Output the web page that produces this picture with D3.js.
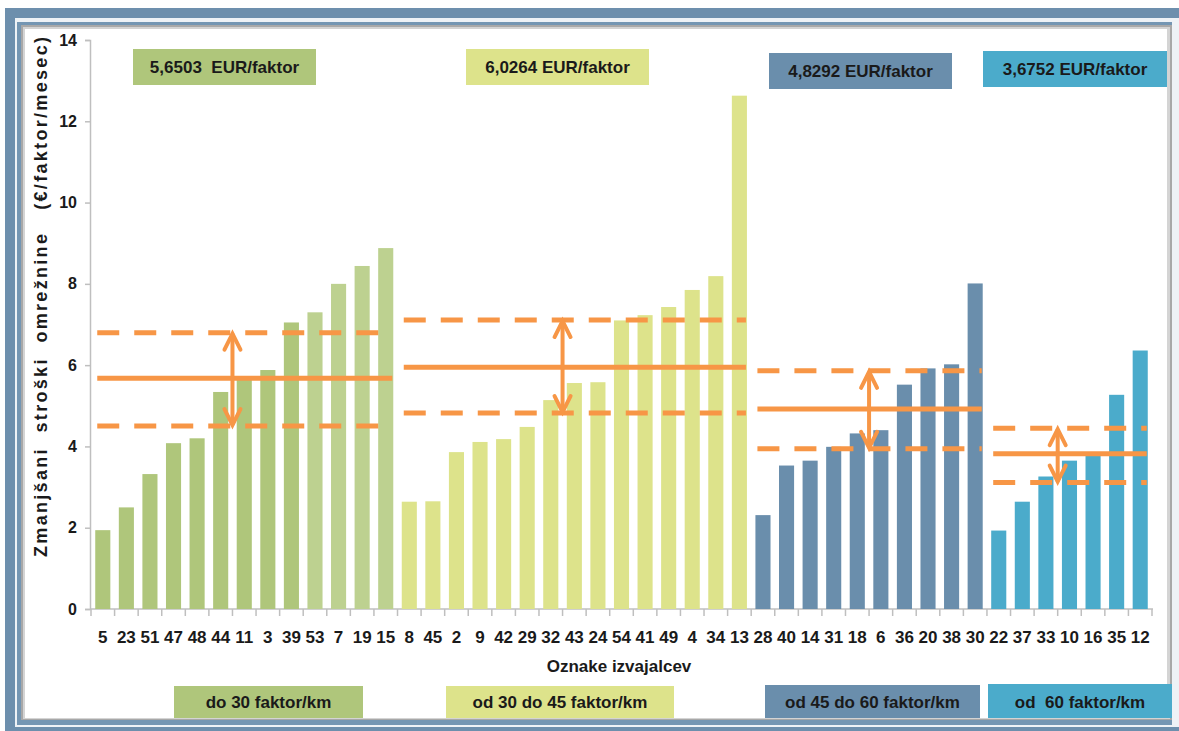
<!DOCTYPE html>
<html>
<head>
<meta charset="utf-8">
<script src="https://cdn.jsdelivr.net/npm/d3@7"></script>
<style>
  body { margin: 0; background: #fff; }
  svg { display: block; }
  text { font-family: "Liberation Sans Narrow", "Liberation Sans", Arial, sans-serif; font-weight: bold; fill: #1a1a1a; }
</style>
</head>
<body>
<svg id="chart" width="1179" height="731"></svg>
<script>
// producer ids per group (x axis order) and cost values
var ids1 = ["5", "23", "51", "47", "48", "44", "11", "3", "39", "53", "7", "19", "15"];
var vals1 = [1.94, 2.5, 3.32, 4.08, 4.2, 5.34, 5.7, 5.88, 7.05, 7.3, 8.0, 8.44, 8.88];
var ids2 = ["8", "45", "2", "9", "42", "29", "32", "43", "24", "54", "41", "49", "4", "34", "13"];
var vals2 = [2.64, 2.65, 3.86, 4.11, 4.18, 4.48, 5.14, 5.56, 5.58, 7.1, 7.23, 7.43, 7.85, 8.19, 12.63];
var ids3 = ["28", "40", "14", "31", "18", "6", "36", "20", "38", "30"];
var vals3 = [2.31, 3.53, 3.65, 3.99, 4.32, 4.4, 5.52, 5.92, 6.02, 8.01];
var ids4 = ["22", "37", "33", "10", "16", "35", "12"];
var vals4 = [1.93, 2.64, 3.26, 3.65, 3.79, 5.27, 6.36];

var groupNames = ["do 30 faktor/km", "od 30 do 45 faktor/km", "od 45 do 60 faktor/km", "od  60 faktor/km"];
var priceLabels = ["5,6503  EUR/faktor", "6,0264 EUR/faktor", "4,8292 EUR/faktor", "3,6752 EUR/faktor"];
var meanValues = [5.68, 5.95, 4.92, 3.82];
var upperValues = [6.8, 7.11, 5.86, 4.45];
var lowerValues = [4.5, 4.82, 3.94, 3.11];
var arrowAt = ["11", "43", "6", "10"];
var yTicks = [0, 2, 4, 6, 8, 10, 12, 14];

var groupColors = ["#afc67b", "#dde38b", "#6a8eac", "#4babcb"];
var lighterIds = ["53", "7", "19", "15"];
var orange = "#f79646";

var allIds = [ids1, ids2, ids3, ids4];
var allVals = [vals1, vals2, vals3, vals4];
var bars = [];
for (var g = 0; g < 4; g++) {
    for (var i = 0; i < allIds[g].length; i++) {
        bars.push({id: allIds[g][i], value: allVals[g][i], group: g});
    }
}

var svg = d3.select("#chart");

var x = d3.scaleBand()
    .domain(bars.map(function(d) { return d.id; }))
    .range([91, 1152])
    .paddingInner(0.36)
    .paddingOuter(0.18);

var y = d3.scaleLinear().domain([0, 14]).range([609, 40]);

var step = x.step();
function leftEdge(id) { return x(id) - step * 0.18; }

// frame
svg.append("rect").attr("x", 5).attr("y", 8).attr("width", 1174).attr("height", 723).attr("fill", "#6d8fad");
svg.append("rect").attr("x", 15).attr("y", 18).attr("width", 1164).attr("height", 709).attr("fill", "#eef2f6");
svg.append("rect").attr("x", 17).attr("y", 22).attr("width", 1155).attr("height", 703).attr("fill", "#7496b3");
svg.append("rect").attr("x", 21).attr("y", 25).attr("width", 1151).attr("height", 695).attr("fill", "#a8a8a8");
svg.append("rect").attr("x", 23).attr("y", 27).attr("width", 1147).attr("height", 692).attr("fill", "#d4d4d4");
svg.append("rect").attr("x", 25).attr("y", 29).attr("width", 1142).attr("height", 689).attr("fill", "#ffffff");

var plot = svg.append("g");

// axes
var yAxis = d3.axisLeft(y).tickValues(yTicks).tickSize(5).tickPadding(8);
var yg = plot.append("g").attr("transform", "translate(90,0)").call(yAxis);
yg.select(".domain").attr("stroke", "#bfbfbf").attr("stroke-width", 1.5);
yg.selectAll(".tick line").attr("stroke", "#bfbfbf").attr("stroke-width", 1.5);
yg.selectAll(".tick text").style("font-size", "16px").attr("fill", "#1a1a1a");

plot.append("line").attr("x1", 90).attr("x2", 1153).attr("y1", y(0)).attr("y2", y(0))
    .attr("stroke", "#bfbfbf").attr("stroke-width", 1.5);
plot.selectAll(".xtick").data(d3.range(bars.length + 1)).enter().append("line")
    .attr("x1", function(i) { return 91 + i * step; })
    .attr("x2", function(i) { return 91 + i * step; })
    .attr("y1", y(0)).attr("y2", y(0) + 7)
    .attr("stroke", "#bfbfbf").attr("stroke-width", 1.5);
plot.selectAll(".xlab").data(bars).enter().append("text")
    .attr("x", function(d) { return x(d.id) + x.bandwidth() / 2; })
    .attr("y", 643)
    .attr("text-anchor", "middle")
    .style("font-size", "17px")
    .text(function(d) { return d.id; });

// bars
plot.selectAll(".bar").data(bars).enter().append("rect")
    .attr("x", function(d) { return x(d.id); })
    .attr("width", x.bandwidth())
    .attr("y", function(d) { return y(d.value); })
    .attr("height", function(d) { return y(0) - y(d.value); })
    .attr("fill", function(d) { return lighterIds.indexOf(d.id) >= 0 ? "#bdd190" : groupColors[d.group]; });

// mean and band lines
for (var k = 0; k < 4; k++) {
    var ids = allIds[k];
    var x0 = x(ids[0]) + 2;
    var x1 = x(ids[ids.length - 1]) + x.bandwidth() - 1;
    plot.append("line").attr("x1", x0).attr("x2", x1).attr("y1", y(meanValues[k])).attr("y2", y(meanValues[k]))
        .attr("stroke", orange).attr("stroke-width", 5);
    [upperValues[k], lowerValues[k]].forEach(function(v) {
        plot.append("line").attr("x1", x0).attr("x2", x1).attr("y1", y(v)).attr("y2", y(v))
            .attr("stroke", orange).attr("stroke-width", 5).attr("stroke-dasharray", "22,15");
    });
    var ax = leftEdge(arrowAt[k]);
    var yt = y(upperValues[k]), yb = y(lowerValues[k]);
    plot.append("line").attr("x1", ax).attr("x2", ax).attr("y1", yt + 1).attr("y2", yb - 1)
        .attr("stroke", orange).attr("stroke-width", 4);
    plot.append("path")
        .attr("d", "M" + (ax - 8) + "," + (yt + 17) + "L" + ax + "," + (yt + 1) + "L" + (ax + 8) + "," + (yt + 17))
        .attr("fill", "none").attr("stroke", orange).attr("stroke-width", 4).attr("stroke-linecap", "round");
    plot.append("path")
        .attr("d", "M" + (ax - 8) + "," + (yb - 17) + "L" + ax + "," + (yb - 1) + "L" + (ax + 8) + "," + (yb - 17))
        .attr("fill", "none").attr("stroke", orange).attr("stroke-width", 4).attr("stroke-linecap", "round");
}

// price boxes on top
var topBoxes = [[133, 49, 183], [466, 49, 183], [769, 53, 183], [983, 51, 184]];
topBoxes.forEach(function(b, k) {
    svg.append("rect").attr("x", b[0]).attr("y", b[1]).attr("width", b[2]).attr("height", 36)
        .attr("fill", groupColors[k]);
    svg.append("text").attr("x", b[0] + b[2] / 2).attr("y", b[1] + 24)
        .attr("text-anchor", "middle").style("font-size", "17px").style("white-space", "pre")
        .text(priceLabels[k]);
});

// group boxes on bottom
var bottomBoxes = [[174, 686, 189], [446, 686, 228], [765, 685, 215], [988, 684, 184]];
bottomBoxes.forEach(function(b, k) {
    svg.append("rect").attr("x", b[0]).attr("y", b[1]).attr("width", b[2]).attr("height", 718 - b[1])
        .attr("fill", groupColors[k]);
    svg.append("text").attr("x", b[0] + b[2] / 2).attr("y", 708)
        .attr("text-anchor", "middle").style("font-size", "17px").style("white-space", "pre")
        .text(groupNames[k]);
});

// axis titles
svg.append("text").attr("x", 619).attr("y", 672).attr("text-anchor", "middle")
    .style("font-size", "17px").text("Oznake izvajalcev");
svg.append("text").attr("transform", "translate(47,297) rotate(-90)").attr("text-anchor", "middle")
    .style("font-family", "'Liberation Sans', Arial, sans-serif")
    .style("font-size", "18px").style("white-space", "pre")
    .attr("textLength", 520).attr("lengthAdjust", "spacing")
    .text("Zmanjšani  stroški  omrežnine   (€/faktor/mesec)");
</script>
</body>
</html>
